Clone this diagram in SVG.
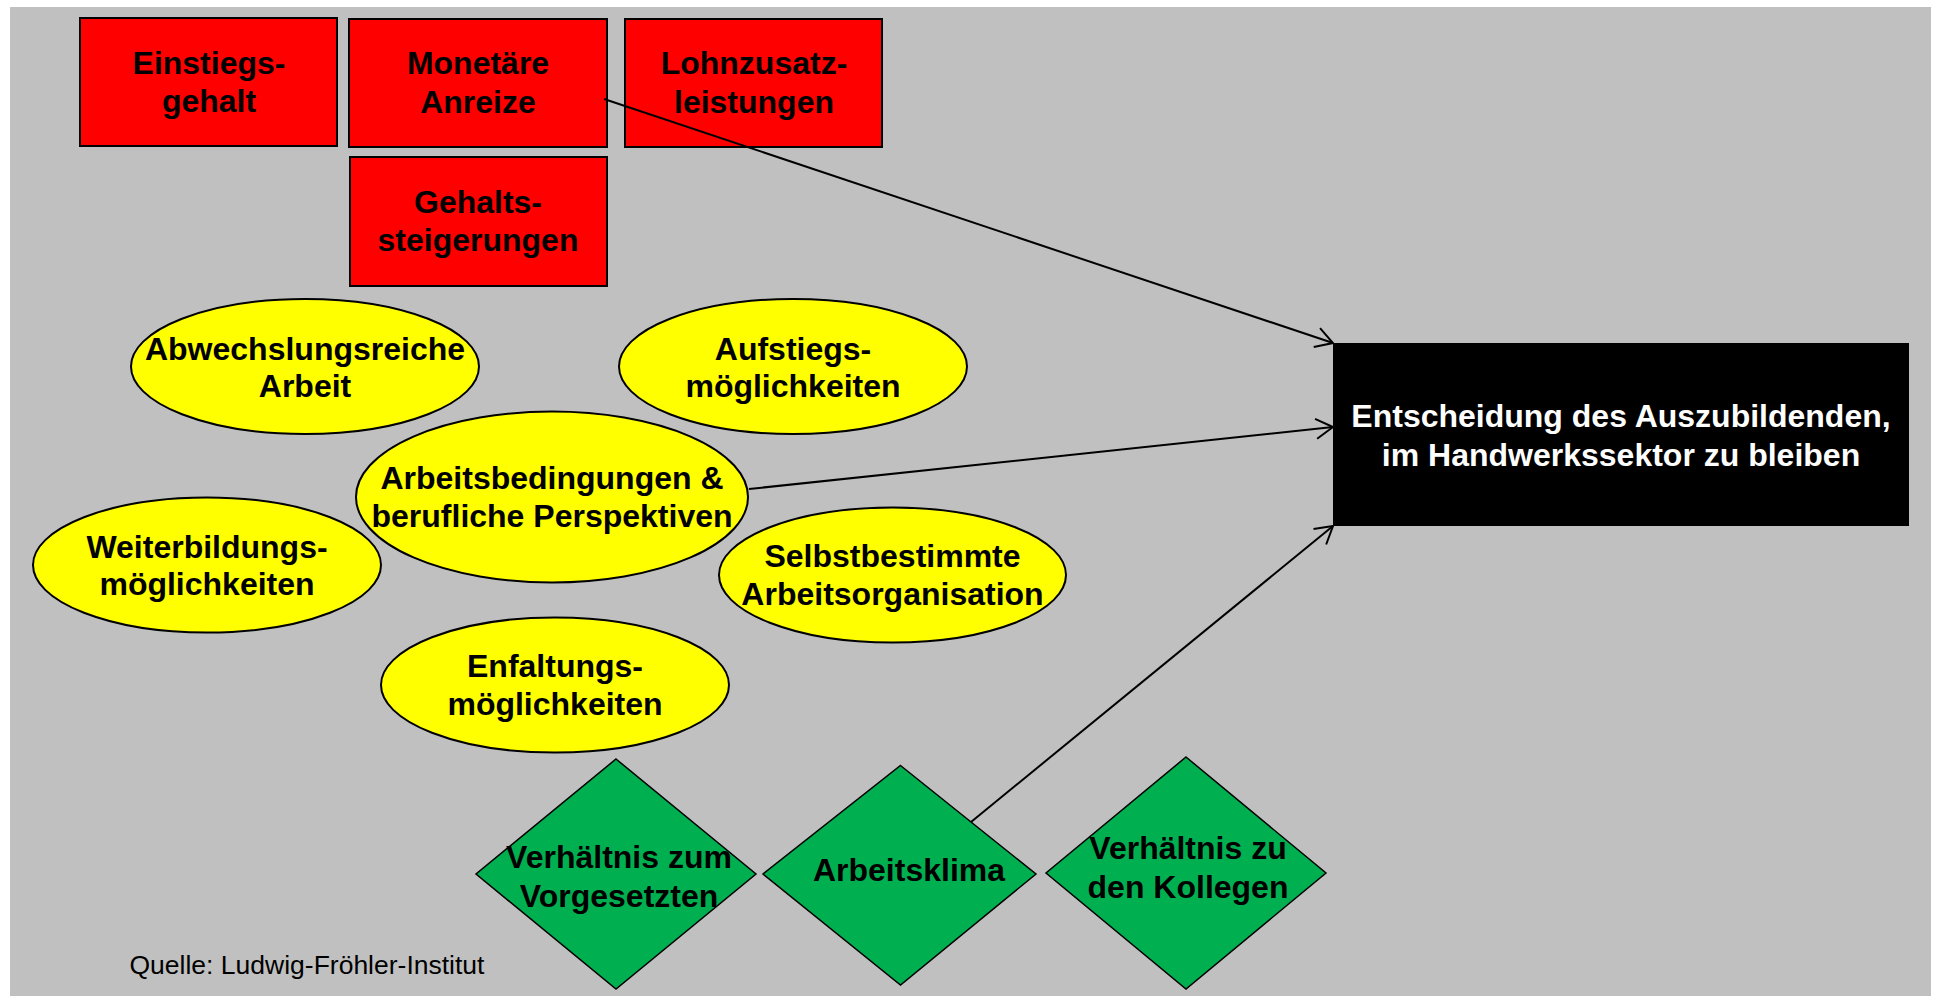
<svg xmlns="http://www.w3.org/2000/svg" width="1934" height="996" viewBox="0 0 1934 996">
<style>
.t{font-family:"Liberation Sans",Arial,sans-serif;font-weight:bold;font-size:32px;fill:#000;text-anchor:middle}
.w{fill:#fff}
.red{fill:#FF0000;stroke:#000;stroke-width:2}
.yel{fill:#FFFF00;stroke:#000;stroke-width:2}
.grn{fill:#00B050;stroke:#000;stroke-width:1.5}
.con{stroke:#000;stroke-width:2;fill:none;marker-end:url(#arr)}
.src{font-family:"Liberation Sans",Arial,sans-serif;font-size:26.5px;fill:#000}
</style>
<defs>
<marker id="arr" markerUnits="userSpaceOnUse" markerWidth="22" markerHeight="24" viewBox="0 0 22 24" refX="19" refY="12" orient="auto">
<path d="M2,2 L19,12 L2,22" fill="none" stroke="#000" stroke-width="2"/>
</marker>
</defs>
<rect x="0" y="0" width="1934" height="996" fill="#fff"/>
<rect x="10" y="7" width="1921" height="989" fill="#C0C0C0"/>

<g id="einstiegsgehalt"><rect class="red" x="80" y="18" width="257" height="128"/><text class="t" x="209" y="74">Einstiegs-</text><text class="t" x="209" y="112">gehalt</text></g>
<g id="monetaere-anreize"><rect class="red" x="349" y="19" width="258" height="128"/><text class="t" x="478" y="74">Monetäre</text><text class="t" x="478" y="113">Anreize</text></g>
<g id="lohnzusatzleistungen"><rect class="red" x="625" y="19" width="257" height="128"/><text class="t" x="754" y="74">Lohnzusatz-</text><text class="t" x="754" y="113">leistungen</text></g>
<g id="gehaltssteigerungen"><rect class="red" x="350" y="157" width="257" height="129"/><text class="t" x="478" y="213">Gehalts-</text><text class="t" x="478" y="251">steigerungen</text></g>

<g id="abwechslungsreiche-arbeit"><ellipse class="yel" cx="305" cy="366.5" rx="174" ry="67.5"/><text class="t" x="305" y="360">Abwechslungsreiche</text><text class="t" x="305" y="397">Arbeit</text></g>
<g id="aufstiegsmoeglichkeiten"><ellipse class="yel" cx="793" cy="366.5" rx="174" ry="67.5"/><text class="t" x="793" y="360">Aufstiegs-</text><text class="t" x="793" y="397">möglichkeiten</text></g>
<g id="arbeitsbedingungen"><ellipse class="yel" cx="552" cy="497" rx="196" ry="85.5"/><text class="t" x="552" y="489">Arbeitsbedingungen &amp;</text><text class="t" x="552" y="527">berufliche Perspektiven</text></g>
<g id="weiterbildungsmoeglichkeiten"><ellipse class="yel" cx="207" cy="565" rx="174" ry="67.5"/><text class="t" x="207" y="558">Weiterbildungs-</text><text class="t" x="207" y="595">möglichkeiten</text></g>
<g id="selbstbestimmte-arbeitsorganisation"><ellipse class="yel" cx="892.5" cy="575" rx="173.5" ry="67.5"/><text class="t" x="892.5" y="567">Selbstbestimmte</text><text class="t" x="892.5" y="605">Arbeitsorganisation</text></g>
<g id="enfaltungsmoeglichkeiten"><ellipse class="yel" cx="555" cy="685" rx="174" ry="67.5"/><text class="t" x="555" y="677">Enfaltungs-</text><text class="t" x="555" y="715">möglichkeiten</text></g>

<g id="verhaeltnis-vorgesetzte"><polygon class="grn" points="616,759 756,874 616,989 476,874"/><text class="t" x="619" y="868">Verhältnis zum</text><text class="t" x="619" y="907">Vorgesetzten</text></g>
<g id="arbeitsklima"><polygon class="grn" points="900.5,765.5 1036,874 900.5,985 763,874"/><text class="t" x="909" y="881">Arbeitsklima</text></g>
<g id="verhaeltnis-kollegen"><polygon class="grn" points="1186,757 1326,873 1186,989 1046,873"/><text class="t" x="1188" y="859">Verhältnis zu</text><text class="t" x="1188" y="898">den Kollegen</text></g>

<g id="entscheidung"><rect x="1333" y="343" width="576" height="183" fill="#000"/><text class="t w" x="1621" y="427">Entscheidung des Auszubildenden,</text><text class="t w" x="1621" y="466"> im Handwerkssektor zu bleiben</text></g>

<g id="connectors">
<line class="con" x1="604" y1="99" x2="1333" y2="343"/>
<line class="con" x1="749" y1="489" x2="1333" y2="427"/>
<line class="con" x1="971" y1="822" x2="1333" y2="526"/>
</g>

<text class="src" x="129.5" y="974">Quelle: Ludwig-Fröhler-Institut</text>
</svg>
